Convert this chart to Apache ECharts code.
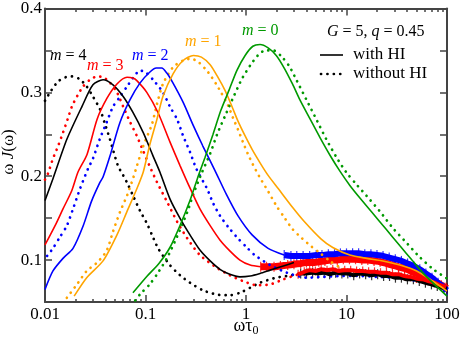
<!DOCTYPE html>
<html>
<head>
<meta charset="utf-8">
<script src="https://cdn.jsdelivr.net/npm/echarts@6/dist/echarts.min.js"></script>
<style>
  html, body { margin: 0; padding: 0; background: #fff; }
  #chart { width: 463px; height: 342px; }
</style>
</head>
<body>
<div id="chart"></div>
<script>
  // x = omega*tau0, y = omega J(omega); "With" = with HI (solid), "Without" = without HI (dotted)
  const m4With = [[0.01,0.171],[0.012,0.197],[0.0165,0.244],[0.0233,0.283],[0.030,0.309],[0.0378,0.315],[0.0475,0.309],[0.060,0.295],[0.075,0.276],[0.095,0.252],[0.119,0.224],[0.139,0.205],[0.175,0.173],[0.22,0.150],[0.277,0.130],[0.348,0.112],[0.44,0.099],[0.55,0.089],[0.69,0.083],[0.87,0.080],[1.1,0.081],[1.38,0.084],[1.74,0.088],[2.35,0.093],[3.0,0.097]];
  const m4Without = [[0.01,0.290],[0.0115,0.302],[0.0135,0.313],[0.016,0.318],[0.0185,0.319],[0.022,0.316],[0.026,0.307],[0.030,0.295],[0.0352,0.280],[0.0396,0.262],[0.0443,0.244],[0.053,0.213],[0.060,0.201],[0.067,0.190],[0.075,0.177],[0.088,0.159],[0.104,0.143],[0.116,0.130],[0.135,0.113],[0.175,0.094],[0.22,0.082],[0.277,0.073],[0.372,0.064],[0.51,0.059],[0.69,0.058],[0.87,0.061],[1.1,0.067],[1.38,0.073],[2.0,0.079],[2.9,0.082],[3.5,0.084]];
  const m3With = [[0.01,0.118],[0.0126,0.141],[0.0151,0.161],[0.0185,0.183],[0.0213,0.205],[0.0262,0.226],[0.033,0.268],[0.0414,0.293],[0.052,0.310],[0.0655,0.318],[0.075,0.317],[0.082,0.314],[0.103,0.300],[0.133,0.276],[0.175,0.241],[0.22,0.213],[0.277,0.186],[0.348,0.161],[0.44,0.141],[0.55,0.124],[0.69,0.111],[0.87,0.100],[1.1,0.094],[1.4,0.092]];
  const m3Without = [[0.01,0.196],[0.0107,0.203],[0.012,0.221],[0.0135,0.236],[0.0151,0.252],[0.0168,0.268],[0.0185,0.283],[0.021,0.296],[0.0239,0.307],[0.028,0.315],[0.033,0.319],[0.038,0.318],[0.044,0.312],[0.052,0.300],[0.060,0.283],[0.070,0.265],[0.082,0.248],[0.095,0.230],[0.11,0.212],[0.13,0.193],[0.163,0.170],[0.206,0.146],[0.26,0.126],[0.348,0.106],[0.51,0.091],[0.69,0.082],[0.93,0.075],[1.28,0.070],[1.74,0.071],[2.35,0.077],[3.3,0.083]];
  const m2With = [[0.01,0.065],[0.012,0.087],[0.0151,0.102],[0.019,0.114],[0.024,0.141],[0.029,0.170],[0.035,0.192],[0.0378,0.199],[0.0443,0.224],[0.0557,0.264],[0.070,0.291],[0.088,0.311],[0.11,0.324],[0.128,0.329],[0.145,0.329],[0.163,0.323],[0.188,0.311],[0.237,0.288],[0.30,0.260],[0.372,0.236],[0.49,0.207],[0.64,0.178],[0.83,0.153],[1.15,0.130],[1.66,0.114],[2.4,0.106]];
  const m2Without = [[0.0105,0.105],[0.012,0.114],[0.014,0.127],[0.0165,0.141],[0.019,0.161],[0.0223,0.185],[0.0268,0.209],[0.030,0.221],[0.035,0.244],[0.041,0.264],[0.0475,0.283],[0.056,0.295],[0.0655,0.307],[0.075,0.317],[0.088,0.326],[0.10,0.324],[0.119,0.315],[0.149,0.300],[0.175,0.283],[0.206,0.268],[0.237,0.248],[0.277,0.229],[0.32,0.209],[0.41,0.185],[0.47,0.168],[0.55,0.153],[0.66,0.140],[0.83,0.126],[1.04,0.114],[1.22,0.106],[1.74,0.094],[2.55,0.085],[4.0,0.079],[6.0,0.080],[9.0,0.081],[14,0.081],[20,0.080],[30,0.079],[45,0.076],[70,0.072],[100,0.068]];
  const m1With = [[0.0195,0.057],[0.026,0.079],[0.0378,0.099],[0.052,0.130],[0.0655,0.158],[0.082,0.185],[0.095,0.205],[0.11,0.237],[0.13,0.268],[0.149,0.295],[0.188,0.322],[0.237,0.338],[0.30,0.344],[0.36,0.342],[0.44,0.333],[0.52,0.319],[0.62,0.302],[0.72,0.284],[0.83,0.266],[0.98,0.248],[1.15,0.232],[1.38,0.216],[1.66,0.201],[2.1,0.185],[2.9,0.163],[3.8,0.146],[5.6,0.125],[7.3,0.115],[10.8,0.106],[15.9,0.102],[23,0.099],[34,0.094],[50,0.087],[72,0.075],[100,0.063]];
  const m1Without = [[0.0165,0.055],[0.0208,0.071],[0.026,0.087],[0.033,0.097],[0.041,0.111],[0.0475,0.134],[0.056,0.158],[0.0655,0.177],[0.075,0.197],[0.082,0.212],[0.095,0.236],[0.116,0.262],[0.13,0.286],[0.149,0.310],[0.188,0.330],[0.237,0.338],[0.28,0.340],[0.33,0.337],[0.42,0.324],[0.51,0.309],[0.57,0.299],[0.66,0.285],[0.74,0.270],[0.83,0.256],[0.93,0.241],[1.04,0.227],[1.17,0.214],[1.38,0.198],[1.66,0.182],[2.0,0.165],[2.4,0.151],[2.9,0.137],[3.6,0.126],[4.5,0.116],[5.5,0.108],[7,0.098],[9,0.090],[12,0.085],[20,0.082],[30,0.080],[45,0.077],[70,0.072],[100,0.067]];
  const m0With = [[0.075,0.061],[0.104,0.081],[0.136,0.096],[0.175,0.115],[0.22,0.141],[0.277,0.171],[0.33,0.198],[0.39,0.222],[0.47,0.250],[0.56,0.278],[0.68,0.303],[0.81,0.326],[0.98,0.344],[1.17,0.355],[1.38,0.357],[1.66,0.353],[2.0,0.344],[2.4,0.329],[2.9,0.310],[3.44,0.291],[4.35,0.268],[5.45,0.246],[6.85,0.225],[8.6,0.206],[10.8,0.189],[13.6,0.174],[17.9,0.157],[24.7,0.137],[34,0.117],[44.8,0.100],[60.4,0.082],[100,0.057]];
  const m0Without = [[0.079,0.052],[0.088,0.059],[0.11,0.071],[0.13,0.083],[0.163,0.102],[0.206,0.128],[0.26,0.157],[0.30,0.179],[0.36,0.203],[0.44,0.227],[0.52,0.251],[0.63,0.274],[0.76,0.296],[0.91,0.316],[1.10,0.332],[1.31,0.344],[1.55,0.350],[1.87,0.350],[2.25,0.343],[2.7,0.331],[3.2,0.314],[4.0,0.291],[5.1,0.266],[6.3,0.244],[8.0,0.222],[9.9,0.205],[12.4,0.191],[16,0.176],[21.5,0.158],[29,0.138],[40,0.120],[53,0.104],[73,0.089],[100,0.078]];

  // noisy high-frequency tails: upper band (with HI, m = 3 and 2), lower band (without HI, m = 4 and 3)
  const redUpperX = [1.4,1.6,1.9,2.2,2.6,3.0,3.5,4.0,4.6,5.3,6.1,7.0,8.1,9.3,10.7,12.3,14.2,16.3,18.8,21.6,24.9,28.6,32.9,37.9,43.6,50,58,66,76,88,100];
  const redUpperY = [0.092,0.092,0.092,0.093,0.094,0.095,0.096,0.097,0.097,0.098,0.099,0.100,0.100,0.101,0.101,0.101,0.100,0.100,0.099,0.098,0.096,0.094,0.092,0.090,0.087,0.084,0.081,0.078,0.074,0.070,0.066];
  const blueUpperX = [2.4,2.8,3.2,3.7,4.3,5.0,5.7,6.6,7.6,8.7,10,11.5,13.2,15.2,17.5,20.1,23.1,26.6,30.6,35.2,40.5,46.6,53.6,61.6,70.9,81.5,93.8,100];
  const blueUpperY = [0.106,0.105,0.105,0.105,0.105,0.106,0.106,0.107,0.107,0.108,0.108,0.108,0.108,0.107,0.107,0.106,0.105,0.103,0.101,0.099,0.096,0.093,0.089,0.084,0.079,0.073,0.067,0.064];
  const blackLowerX = [3.5,4.0,4.6,5.2,6.0,6.8,7.8,9.0,10.3,11.8,13.5,15.5,17.8,20.4,23.4,26.8,30.7,35.2,40.4,46.3,53,61,70,80,92,100];
  const blackLowerY = [0.084,0.084,0.085,0.084,0.085,0.083,0.085,0.084,0.084,0.082,0.084,0.083,0.082,0.083,0.081,0.081,0.079,0.079,0.077,0.077,0.075,0.073,0.071,0.069,0.067,0.066];
  const redLowerX = [3.3,3.8,4.3,4.9,5.6,6.4,7.3,8.4,9.6,11,12.6,14.5,16.6,19,21.8,25,28.7,33,37.8,43.3,49.6,57,65,75,86,98];
  const redLowerY = [0.083,0.086,0.088,0.087,0.089,0.088,0.089,0.087,0.088,0.088,0.087,0.087,0.086,0.086,0.085,0.085,0.083,0.083,0.081,0.080,0.078,0.077,0.075,0.073,0.070,0.068];

  const xMinorTicks = [0.02,0.03,0.04,0.05,0.06,0.07,0.08,0.09,0.2,0.3,0.4,0.5,0.6,0.7,0.8,0.9,2,3,4,5,6,7,8,9,20,30,40,50,60,70,80,90];

  const font = 'Liberation Serif';
  const axisColor = '#444';
  const box = { left: 45, top: 8, right: 16, bottom: 39 };
  const green = '#009a00';
  const orange = '#ffa500';

  const solid = (data, color, width) => ({
    type: 'line', data: data, showSymbol: false, smooth: 0.25,
    lineStyle: { color: color, width: width || 1.6 }
  });
  const dotted = (data, color) => ({
    type: 'line', data: data, showSymbol: false, smooth: 0.25,
    lineStyle: { color: color, width: 2.7, type: [0.1, 6.3], cap: 'round' }
  });
  const pairs = (xs, ys) => xs.map((x, i) => [x, ys[i]]);
  const band = (xs, ys, color, w) => solid(pairs(xs, ys), color, w);
  const spikes = (xs, ys, color, h) => ({
    type: 'scatter', symbol: 'rect', symbolSize: [1.2, h],
    data: pairs(xs, ys),
    itemStyle: { color: color }
  });

  const logX = (pos, grid) => ({
    type: 'log', logBase: 10, min: 0.01, max: 100, gridIndex: grid, position: pos,
    axisLine: { show: grid === 0, onZero: false, lineStyle: { color: axisColor, width: 2 } },
    axisTick: { inside: true, length: 7, lineStyle: { color: axisColor, width: 1.5 } },
    axisLabel: { show: false },
    splitLine: { show: false }
  });

  const yAxisBase = (pos) => ({
    type: 'value', min: 0.05, max: 0.4, interval: 0.05, position: pos, gridIndex: 0,
    axisLine: { show: true, onZero: false, lineStyle: { color: axisColor, width: 2 } },
    axisTick: { inside: true, length: 7, lineStyle: { color: axisColor, width: 1.5 } },
    axisLabel: { show: false },
    splitLine: { show: false }
  });

  const xBottom = logX('bottom', 0);
  xBottom.axisLabel = { show: true, color: '#000', fontFamily: font, fontSize: 17, margin: 4,
    formatter: (v) => String(v) };
  xBottom.name = '{a|ωτ}{b|0}';
  xBottom.nameLocation = 'middle';
  xBottom.nameGap = 14;
  xBottom.nameMoveOverlap = false;
  xBottom.nameTextStyle = { rich: {
    a: { fontFamily: font, fontSize: 18, color: '#000' },
    b: { fontFamily: font, fontSize: 12, color: '#000', padding: [9, 0, 0, 0] }
  } };

  const minorBottom = logX('bottom', 1);
  minorBottom.axisTick = { inside: true, length: 4, customValues: xMinorTicks, lineStyle: { color: axisColor, width: 1.5 } };
  const minorTop = logX('top', 1);
  minorTop.axisTick = { inside: true, length: 4, customValues: xMinorTicks, lineStyle: { color: axisColor, width: 1.5 } };

  const yLeft = yAxisBase('left');
  yLeft.axisLabel = { show: true, color: '#000', fontFamily: font, fontSize: 17, margin: 3,
    formatter: (v) => (Math.round(v * 1000) % 100 === 0 ? v.toFixed(1) : '') };

  const mLabel = (txt, color, x, y) => ({
    type: 'text', left: x, top: y - 9,
    style: { text: '{i|m}{n| = ' + txt + '}', rich: {
      i: { fontFamily: font, fontStyle: 'italic', fontSize: 16, fill: color },
      n: { fontFamily: font, fontSize: 16, fill: color }
    } }
  });

  const chart = echarts.init(document.getElementById('chart'));
  chart.setOption({
    animation: false,
    backgroundColor: '#fff',
    grid: [Object.assign({}, box), Object.assign({}, box)],
    xAxis: [xBottom, logX('top', 0), minorBottom, minorTop],
    yAxis: [yLeft, yAxisBase('right'), { type: 'value', min: 0.05, max: 0.4, gridIndex: 1, show: false }],
    series: [
      band(redUpperX, redUpperY, '#ff0000', 7),
      spikes(redUpperX, redUpperY, '#ff0000', 10),
      band(blueUpperX, blueUpperY, '#0000ff', 6),
      spikes(blueUpperX, blueUpperY, '#0000ff', 10),
      dotted(m4Without, '#000'),
      dotted(m3Without, '#ff0000'),
      dotted(m2Without, '#0000ff'),
      dotted(m1Without, orange),
      band(blackLowerX, blackLowerY, '#000', 4),
      spikes(blackLowerX, blackLowerY, '#000', 10),
      band(redLowerX, redLowerY, '#ff0000', 4),
      spikes(redLowerX, redLowerY, '#ff0000', 9),
      dotted(m0Without, green),
      solid(m4With, '#000'),
      solid(m3With, '#ff0000'),
      solid(m2With, '#0000ff'),
      solid(m1With, orange),
      solid(m0With, green)
    ],
    graphic: [
      { type: 'text', x: 9, y: 152, rotation: Math.PI / 2,
        style: { text: '{n|ω }{i|J}{n|(ω)}', align: 'center', verticalAlign: 'middle', rich: {
          n: { fontFamily: font, fontSize: 17, fill: '#000' },
          i: { fontFamily: font, fontSize: 17, fontStyle: 'italic', fill: '#000' }
        } } },
      mLabel('4', '#000', 50, 57),
      mLabel('3', '#ff0000', 87, 67),
      mLabel('2', '#0000ff', 132, 57),
      mLabel('1', orange, 185, 43),
      mLabel('0', green, 242, 32),
      { type: 'text', left: 327, top: 24,
        style: { text: '{i|G}{n| = 5, }{i|q}{n| = 0.45}', rich: {
          i: { fontFamily: font, fontStyle: 'italic', fontSize: 16, fill: '#000' },
          n: { fontFamily: font, fontSize: 16, fill: '#000' }
        } } },
      { type: 'line', shape: { x1: 320, y1: 55, x2: 343, y2: 55 }, style: { stroke: '#000', lineWidth: 1.6 } },
      { type: 'text', left: 353, top: 46, style: { text: 'with HI', fontFamily: font, fontSize: 17, fill: '#000' } },
      { type: 'line', shape: { x1: 321, y1: 74, x2: 346, y2: 74 },
        style: { stroke: '#000', lineWidth: 2.7, lineDash: [0.1, 6.3], lineCap: 'round' } },
      { type: 'text', left: 353, top: 65, style: { text: 'without HI', fontFamily: font, fontSize: 17, fill: '#000' } }
    ]
  });
</script>
</body>
</html>
